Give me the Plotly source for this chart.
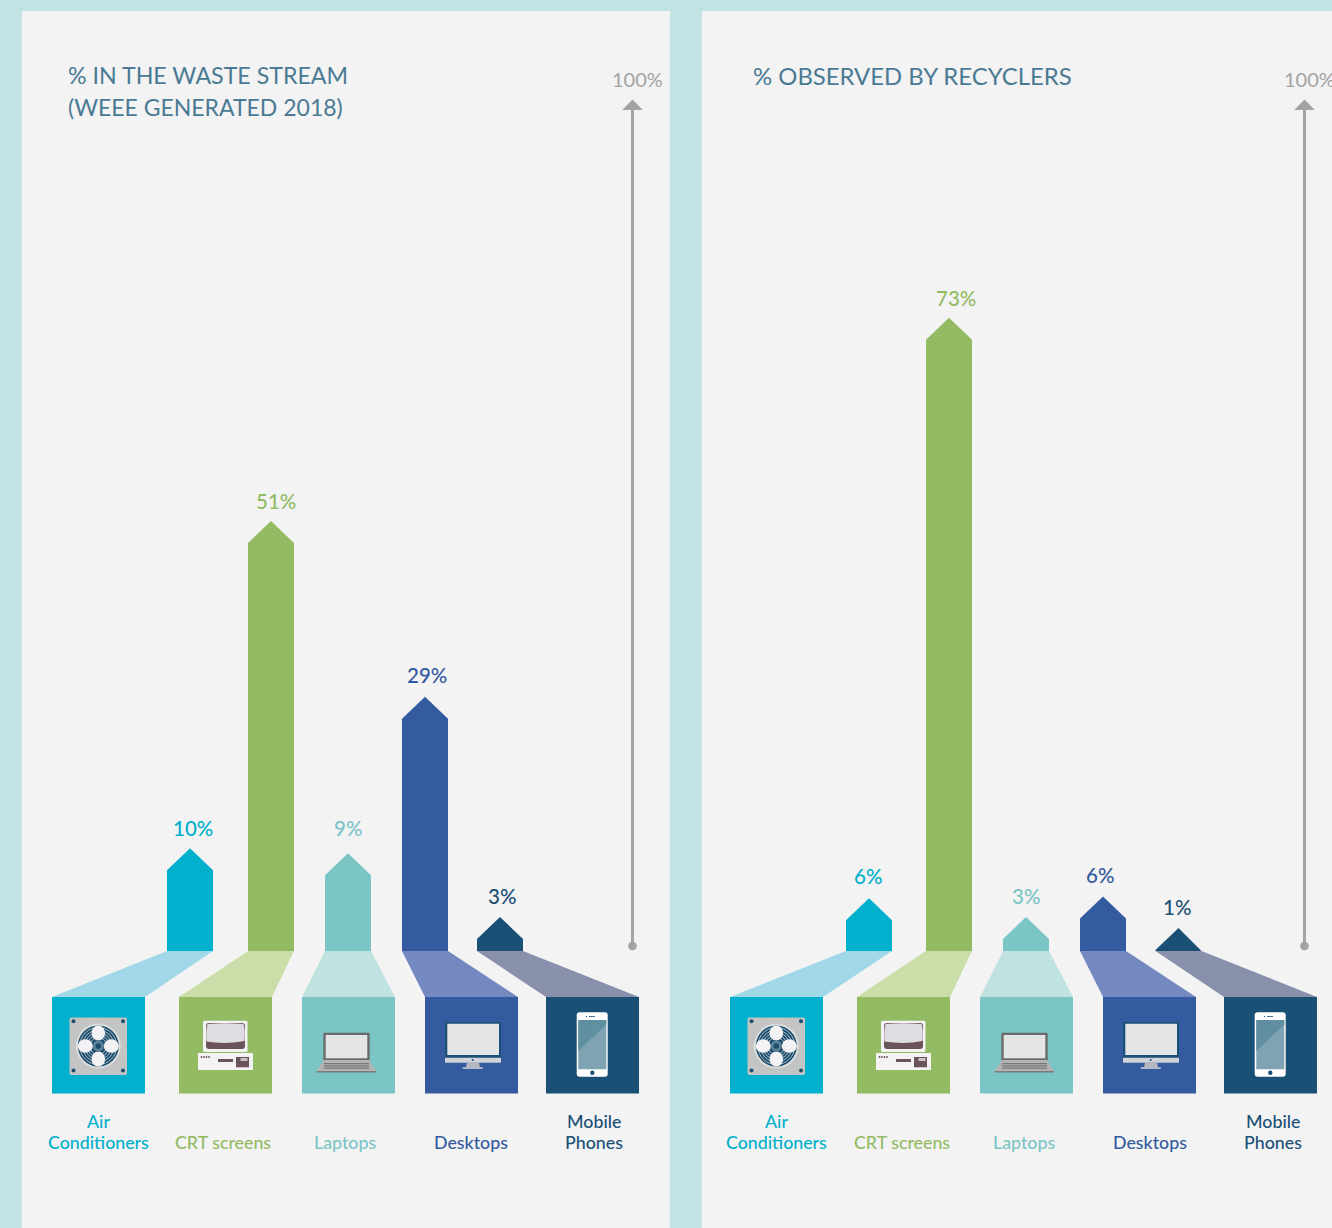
import plotly.graph_objects as go

# ---- data ----
categories = ["Air Conditioners", "CRT screens", "Laptops", "Desktops", "Mobile Phones"]
label_lines = [["Air", "Conditioners"], ["CRT screens"], ["Laptops"], ["Desktops"], ["Mobile", "Phones"]]
waste_pct = [10, 51, 9, 29, 3]
recycler_pct = [6, 73, 3, 6, 1]
# drawn heights, on the 0-100 arrow scale
waste_height = [12.1, 50.6, 11.5, 29.9, 4.0]
recycler_height = [6.2, 74.5, 4.0, 6.4, 2.7]
colors = ["#00b0cc", "#93bb63", "#7bc5c7", "#345b9f", "#1b5076"]
funnel_colors = ["#a0d8e8", "#cbdeaa", "#c0e3e2", "#7489bf", "#8890ac"]
titles = [["% IN THE WASTE STREAM", "(WEEE GENERATED 2018)"], ["% OBSERVED BY RECYCLERS"]]
title_sizes = [[23.2, 23.0], [23.9]]

# ---- layout (pixels) ----
W, H = 1332, 1228
BASE_PX, PX_PER_PCT = 951.0, 8.5
BAR_W, TIP_PX = 46.0, 22.0
bar_left = [[167, 248, 325, 402, 477], [846, 926, 1003, 1080, 1155.5]]
square_left = [[52, 179, 302, 425, 546], [730, 857, 980, 1103, 1224]]
SQ_W, SQ_TOP, SQ_BOT = 93, 997, 1093.5
name_x = [[98, 223, 345, 471, 594], [776.5, 902, 1024, 1150, 1272.5]]
val_x = [[192.5, 275.5, 348, 427, 501.5], [868, 955.5, 1026, 1100, 1177]]
val_y = [[827.5, 500.5, 827.5, 674.5, 895.5], [875.5, 297.5, 895.5, 874.5, 906.5]]
FONT = "Lato"


def py(y):
    return (BASE_PX - y) / PX_PER_PCT


shapes, annos = [], []


def poly(pts, color):
    d = "M " + " L ".join(f"{x},{py(y)}" for x, y in pts) + " Z"
    shapes.append(dict(type="path", path=d, fillcolor=color, line=dict(width=0), layer="below"))


def rect(x0, y0, x1, y1, color):
    shapes.append(dict(type="rect", x0=x0, x1=x1, y0=py(y0), y1=py(y1), fillcolor=color,
                       line=dict(width=0), layer="below"))


def rrect(x0, y0, x1, y1, r, color):
    p = (f"M {x0+r},{py(y0)} L {x1-r},{py(y0)} Q {x1},{py(y0)} {x1},{py(y0+r)} L {x1},{py(y1-r)} "
         f"Q {x1},{py(y1)} {x1-r},{py(y1)} L {x0+r},{py(y1)} Q {x0},{py(y1)} {x0},{py(y1-r)} "
         f"L {x0},{py(y0+r)} Q {x0},{py(y0)} {x0+r},{py(y0)} Z")
    shapes.append(dict(type="path", path=p, fillcolor=color, line=dict(width=0), layer="below"))


def ell(cx, cy, rx, ry, fill, line=None, lw=0):
    shapes.append(dict(type="circle", x0=cx-rx, x1=cx+rx, y0=py(cy-ry), y1=py(cy+ry),
                       fillcolor=fill, line=dict(width=lw, color=line or fill), layer="below"))


def text(x, y, s, size, color, anchor="center", weight=400):
    annos.append(dict(x=x, y=py(y), text=s, showarrow=False, xanchor=anchor, yanchor="middle",
                      font=dict(family=FONT, size=size, color=color, weight=weight), xref="x", yref="y"))


def fan(d):
    cx, cy = 98.3 + d, 1046
    rrect(69.5+d, 1017.5, 127+d, 1075, 2, "#c3c4c4")
    for x in (73.5+d, 123+d):
        for y in (1021.3, 1070.5):
            ell(x, y, 2, 2, "#1d4e6e")
    ell(cx, cy, 22.5, 22.5, "#dcdddd")
    ell(cx, cy, 20.5, 20.5, "#1d4e6e")
    for r in (18.5, 16, 13.5, 11, 8.5):
        ell(cx, cy, r, r, "rgba(0,0,0,0)", "#a9bbc6", 1)
    rect(cx-22, cy-0.4, cx+22, cy+0.4, "#e8e8e8")
    for ox, oy, rx, ry in ((0, -13, 6.8, 7.5), (0, 13, 6.8, 7.5), (-13, 0, 7.5, 6.8), (13, 0, 7.5, 6.8)):
        ell(cx+ox, cy+oy, rx, ry, "#f3f3f5")
    ell(cx, cy, 5.5, 5.5, "#5d8197")
    ell(cx, cy, 2.8, 2.8, "#1d4e6e")


def crt(d):
    rrect(203+d, 1020.7, 247.5+d, 1052, 1.5, "#f3f3f5")
    rrect(206+d, 1023, 245+d, 1049, 3, "#6b5459")
    p = (f"M {206.5+d},{py(1041.5)} Q {225.5+d},{py(1044.5)} {244.5+d},{py(1041)} "
         f"Q {245.5+d},{py(1030)} {243.5+d},{py(1024)} Q {225+d},{py(1022.5)} {207.5+d},{py(1024)} "
         f"Q {205.5+d},{py(1030)} {206.5+d},{py(1041.5)} Z")
    shapes.append(dict(type="path", path=p, fillcolor="#dfdde2", line=dict(width=0), layer="below"))
    rect(198+d, 1053, 253+d, 1070, "#f3f3f5")
    for x in (201.5, 204, 206.5, 209):
        ell(x+d, 1057, 0.9, 0.9, "#6b5459")
    rect(218+d, 1059, 233+d, 1062, "#6b5459")
    rect(236+d, 1057, 249+d, 1067.3, "#6b5459")
    rect(240.5+d, 1058, 247.5+d, 1061, "#c8c4c6")


def laptop(d):
    rrect(323.3+d, 1032.7, 369.7+d, 1060.5, 1, "#6b6b6b")
    rect(325.7+d, 1035, 367.3+d, 1058.3, "#e4e5e7")
    poly([(324+d, 1060), (369+d, 1060), (376+d, 1071), (316.7+d, 1071)], "#b3b3b1")
    rect(316.7+d, 1071, 376+d, 1072.5, "#7b7b7b")
    for y in (1063, 1065.3, 1067.6):
        poly([(324.5+d, y), (368.5+d, y), (369.5+d, y+1.2), (323.5+d, y+1.2)], "#777777")


def desktop(d):
    rrect(445+d, 1022.3, 501+d, 1058, 0.8, "#1b5076")
    rect(447.3+d, 1023.7, 499+d, 1055, "#e4e5e7")
    rrect(445+d, 1057.7, 501+d, 1062.7, 0.8, "#d2d3d8")
    ell(472.7+d, 1060, 1, 1, "#1b5076")
    poly([(467+d, 1062.7), (479+d, 1062.7), (480+d, 1067.3), (466+d, 1067.3)], "#b6b6bc")
    rect(462.7+d, 1067.3, 482.7+d, 1068.8, "#d2d3d8")


def phone(d):
    rrect(576.7+d, 1012.3, 607.7+d, 1076.7, 3, "#ffffff")
    rect(578.3+d, 1020, 606.3+d, 1069.3, "#7fa3b3")
    poly([(578.3+d, 1020), (606.3+d, 1020), (606.3+d, 1024.5), (578.3+d, 1051)], "#5f8fa1")
    ell(592.3+d, 1072.8, 2.2, 2.2, "#1b5076")
    rect(589+d, 1016, 595+d, 1016.8, "#1b5076")
    ell(586.5+d, 1016.4, 0.6, 0.6, "#1b5076")


# ---- page background + panels ----
rect(0, 0, W, H, "#c1e3e4")
rect(22, 11, 670, H, "#f3f3f3")
rect(702, 11, W, H, "#f3f3f3")

fig = go.Figure()
series = [(waste_pct, waste_height), (recycler_pct, recycler_height)]
for p, (pct, heights) in enumerate(series):
    for i, cat in enumerate(categories):
        bl, sl = bar_left[p][i], square_left[p][i]
        # funnel and square
        poly([(bl, BASE_PX), (bl+BAR_W, BASE_PX), (sl+SQ_W, SQ_TOP), (sl, SQ_TOP)], funnel_colors[i])
        rect(sl, SQ_TOP, sl+SQ_W, SQ_BOT, colors[i])
        # house-shaped bar, from the value
        v = heights[i]
        shoulder = max(v - TIP_PX / PX_PER_PCT, 0)
        fig.add_trace(go.Scatter(
            x=[bl, bl, bl + BAR_W / 2, bl + BAR_W, bl + BAR_W, bl],
            y=[0, shoulder, v, shoulder, 0, 0],
            mode="lines", fill="toself", fillcolor=colors[i],
            line=dict(width=0, color=colors[i]), name=cat, showlegend=False, hoverinfo="name"))
        text(val_x[p][i], val_y[p][i], f"{pct[i]}%", 20.5, colors[i], weight=500)
        lines = label_lines[i]
        ys = [1141.5] if len(lines) == 1 else [1120.5, 1141.5]
        for y, s in zip(ys, lines):
            text(name_x[p][i], y, s, 17.8, colors[i], weight=500)
    # 0-100 arrow
    ax = 632.5 if p == 0 else 1304.5
    shapes.append(dict(type="line", x0=ax, x1=ax, y0=py(946), y1=py(108), line=dict(color="#a3a3a3", width=3), layer="below"))
    poly([(ax, 99.5), (ax+10.3, 110), (ax-10.3, 110)], "#a3a3a3")
    ell(ax, 946, 4.3, 4.3, "#a3a3a3")
    text(ax+5, 78.5, "100%", 20, "#a3a3a3")
    tx = 66 if p == 0 else 751
    for y, s, fs in zip((75, 106.5), titles[p], title_sizes[p]):
        text(tx, y, s, fs, "#4a7a94", "left")
    d = 0 if p == 0 else 678
    fan(d); crt(d); laptop(d); desktop(d); phone(d)

fig.update_layout(
    width=W, height=H, margin=dict(l=0, r=0, t=0, b=0, pad=0),
    paper_bgcolor="#f3f3f3", plot_bgcolor="#f3f3f3", showlegend=False,
    xaxis=dict(range=[0, W], visible=False, fixedrange=True),
    yaxis=dict(range=[py(H), py(0)], visible=False, fixedrange=True),
    shapes=shapes, annotations=annos,
)
fig.write_html("out.html", config=dict(displayModeBar=False),
               post_script="document.body.style.margin='0';document.documentElement.style.overflow='hidden';")
